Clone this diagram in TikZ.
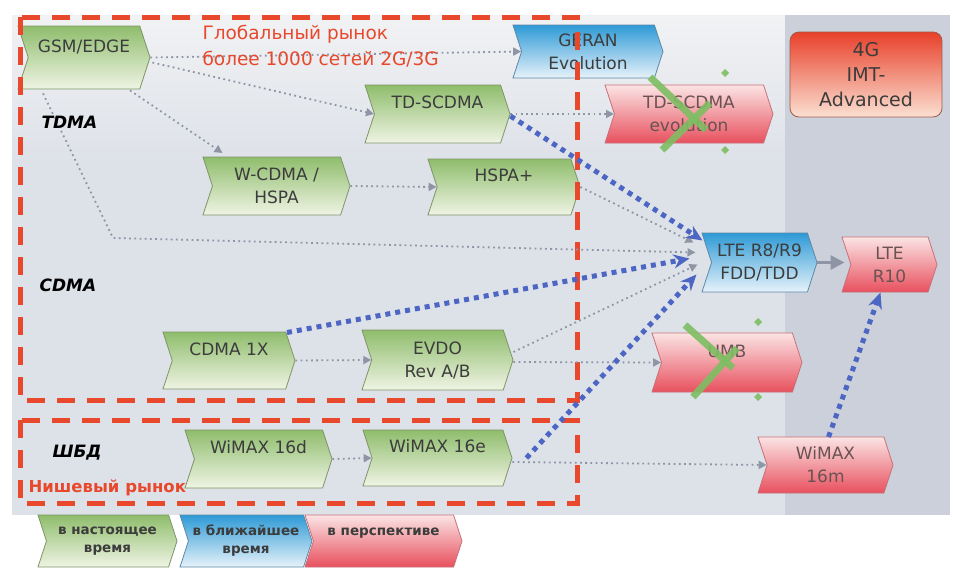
\documentclass[tikz,border=0pt]{standalone}
\usepackage{fontspec}
\setmainfont{DejaVu Sans}
\usetikzlibrary{shapes.symbols,arrows.meta,calc}
\definecolor{panelbg}{HTML}{DDE1E8}
\definecolor{panelright}{HTML}{CBD0DA}
\definecolor{panellight}{HTML}{F1F2F4}
\definecolor{gtop}{HTML}{8FBD6C}
\definecolor{gbot}{HTML}{EFF4E4}
\definecolor{gedge}{HTML}{7E9468}
\definecolor{btop}{HTML}{2E9AD6}
\definecolor{bbot}{HTML}{E6F2FA}
\definecolor{bedge}{HTML}{5E88A6}
\definecolor{rtop}{HTML}{FBE4E4}
\definecolor{rbot}{HTML}{E8505E}
\definecolor{redge}{HTML}{C8707A}
\definecolor{ftop}{HTML}{E8402A}
\definecolor{fbot}{HTML}{FBE0D2}
\definecolor{fedge}{HTML}{A05A48}
\definecolor{txtgray}{HTML}{3C3C3C}
\definecolor{rtxt}{HTML}{6A5252}
\definecolor{dashred}{HTML}{E8482C}
\definecolor{dotgray}{HTML}{8E96A6}
\definecolor{dotblue}{HTML}{4D66C4}
\definecolor{xgreen}{HTML}{7DBE62}
\begin{document}
\begin{tikzpicture}[x=1pt,y=-1pt,
  chev/.style={signal, signal to=east, signal from=west, signal pointer angle=144,
    inner sep=0pt, align=center, font=\fontsize{17}{23}\selectfont, text=txtgray, line width=0.8pt},
  gnode/.style={chev, top color=gtop, bottom color=gbot, draw=gedge},
  bnode/.style={chev, top color=btop, bottom color=bbot, draw=bedge},
  rnode/.style={chev, top color=rtop, bottom color=rbot, draw=redge, text=rtxt},
  lgnd/.style={font=\fontsize{13.5}{18}\selectfont\bfseries, text=txtgray},
  tech/.style={font=\fontsize{17}{20}\selectfont\bfseries\itshape, text=black, anchor=west},
  redbox/.style={draw=dashred, line width=5pt, dash pattern=on 18pt off 12pt},
  gdot/.style={draw=dotgray, line width=1.8pt, dash pattern=on 1.8pt off 3.4pt, -{Triangle[length=8pt,width=8pt]}},
  bdot/.style={draw=dotblue, line width=5pt, dash pattern=on 5pt off 5pt, -{Stealth[length=16pt,width=14pt]}},
  xmark/.style={draw=xgreen, line width=7pt, opacity=0.9},
  xdot/.style={fill=xgreen, opacity=0.9}
]
\useasboundingbox (0,0) rectangle (953,571);
% background panel
\fill[white] (0,0) rectangle (953,571);
\fill[panelbg] (12,15) rectangle (950,515);
\shade[top color=panellight, bottom color=panelbg] (12,15) rectangle (785,165);
\fill[panelright] (785,15) rectangle (950,515);
% nodes
\node[gnode, minimum width=132pt, minimum height=63pt] (gsm) at (84,57.5) {GSM/EDGE\\\mbox{}};
\node[bnode, minimum width=150pt, minimum height=53pt] (geran) at (588,51.5) {GERAN\\Evolution};
\node[gnode, minimum width=145pt, minimum height=58pt] (tds) at (437.5,114) {TD-SCDMA\\\mbox{}};
\node[rnode, minimum width=168pt, minimum height=58pt] (tdsevo) at (689,114) {TD-SCDMA\\evolution};
\node[draw=fedge, line width=0.8pt, rounded corners=9pt, top color=ftop, bottom color=fbot,
  minimum width=152pt, minimum height=85pt, align=center, font=\fontsize{19}{25}\selectfont, text=txtgray]
  (imt) at (866,74.5) {4G\\IMT-\\Advanced};
\node[gnode, minimum width=147pt, minimum height=58pt] (wcdma) at (276.5,186) {W-CDMA /\\HSPA};
\node[gnode, minimum width=152pt, minimum height=56pt] (hspa) at (504,187) {HSPA+\\\mbox{}};
\node[bnode, minimum width=115pt, minimum height=59pt] (lte) at (759.5,262.5) {LTE R8/R9\\FDD/TDD};
\node[rnode, minimum width=95pt, minimum height=55pt] (lte10) at (889.5,264.5) {LTE\\R10};
\node[gnode, minimum width=132pt, minimum height=57pt] (cdma) at (229,360.5) {CDMA 1X\\\mbox{}};
\node[gnode, minimum width=151pt, minimum height=60pt] (evdo) at (437.5,360) {EVDO\\Rev A/B};
\node[rnode, minimum width=150pt, minimum height=59pt] (umb) at (727,362.5) {UMB\\\mbox{}};
\node[gnode, minimum width=147pt, minimum height=58pt] (w16d) at (258.5,459) {WiMAX 16d\\\mbox{}};
\node[gnode, minimum width=149pt, minimum height=56pt] (w16e) at (437.5,458) {WiMAX 16e\\\mbox{}};
\node[rnode, minimum width=135pt, minimum height=56pt] (w16m) at (825.5,465) {WiMAX\\16m};
% legend
\node[gnode, lgnd, minimum width=139pt, minimum height=52pt] (lg1) at (107.5,541) {в настоящее\\время};
\node[bnode, lgnd, minimum width=132pt, minimum height=52pt] (lg2) at (246,541) {в ближайшее\\время};
\node[rnode, lgnd, minimum width=157pt, minimum height=52pt] (lg3) at (383.5,541) {в перспективе\\\mbox{}};
% dashed boxes
\draw[redbox] (20,17) rectangle (577,400);
\draw[redbox] (20,420) rectangle (577,503);
% gray connectors
\coordinate (bend) at (113,238);
\draw[gdot] (gsm.east) -- (geran.west);
\draw[gdot] ($(gsm.east)+(2,5)$) -- (tds.west);
\draw[gdot] ($(gsm.south)+(46,1)$) -- ($(wcdma.center)+(-54,-33)$);
\draw[gdot] ($(gsm.south)+(-41,4)$) -- (bend) -- ($(lte.center)+(-64,-10)$);
\draw[gdot] (tds.east) -- (tdsevo.west);
\draw[gdot] (wcdma.east) -- (hspa.west);
\draw[gdot] (hspa.east) -- ($(lte.center)+(-66,-20)$);
\draw[gdot] (cdma.east) -- (evdo.west);
\draw[gdot] ($(evdo.east)+(0,-8)$) -- ($(lte.center)+(-62,2)$);
\draw[gdot] ($(evdo.east)+(0,2)$) -- (umb.west);
\draw[gdot] (w16d.east) -- (w16e.west);
\draw[gdot] ($(w16e.east)+(0,4)$) -- (w16m.west);
\draw[draw=dotgray, line width=3pt, -{Triangle[length=14pt,width=14pt]}] (lte.east) -- ($(lte10.west)+(-6,-2)$);
% blue connectors
\draw[bdot] ($(tds.east)+(0,2)$) -- ($(lte.center)+(-57,-22)$);
\draw[bdot] ($(cdma.center)+(58,-28)$) -- ($(lte.center)+(-70,-4)$);
\draw[bdot] ($(w16e.east)+(14,0)$) -- ($(lte.center)+(-63,12)$);
\draw[bdot] ($(w16m.center)+(3,-28)$) -- ($(lte10.center)+(-9,28)$);
% crosses
\draw[xmark] (650,77) -- (706,130);
\draw[xmark] (662,150) -- (710,103);
\fill[xdot] (725,69) -- (729,73) -- (725,77) -- (721,73) -- cycle;
\fill[xdot] (725,146) -- (729,150) -- (725,154) -- (721,150) -- cycle;
\draw[xmark] (685,325) -- (733,368);
\draw[xmark] (693,397) -- (737,348);
\fill[xdot] (758,318) -- (762,322) -- (758,326) -- (754,322) -- cycle;
\fill[xdot] (758,393) -- (762,397) -- (758,401) -- (754,397) -- cycle;
% texts
\node[anchor=west, align=left, text=dashred, font=\fontsize{18.5}{26}\selectfont] (glob) at (199,46) {Глобальный рынок\\более 1000 сетей 2G/3G};
\node[anchor=west, text=dashred, font=\fontsize{16.5}{20}\selectfont\bfseries] (nisch) at (25,488) {Нишевый рынок};
\node[tech] (tdma) at (38,122) {TDMA};
\node[tech] (cdmal) at (36,285) {CDMA};
\node[tech] (shbd) at (49,453) {ШБД};
\end{tikzpicture}
\end{document}
